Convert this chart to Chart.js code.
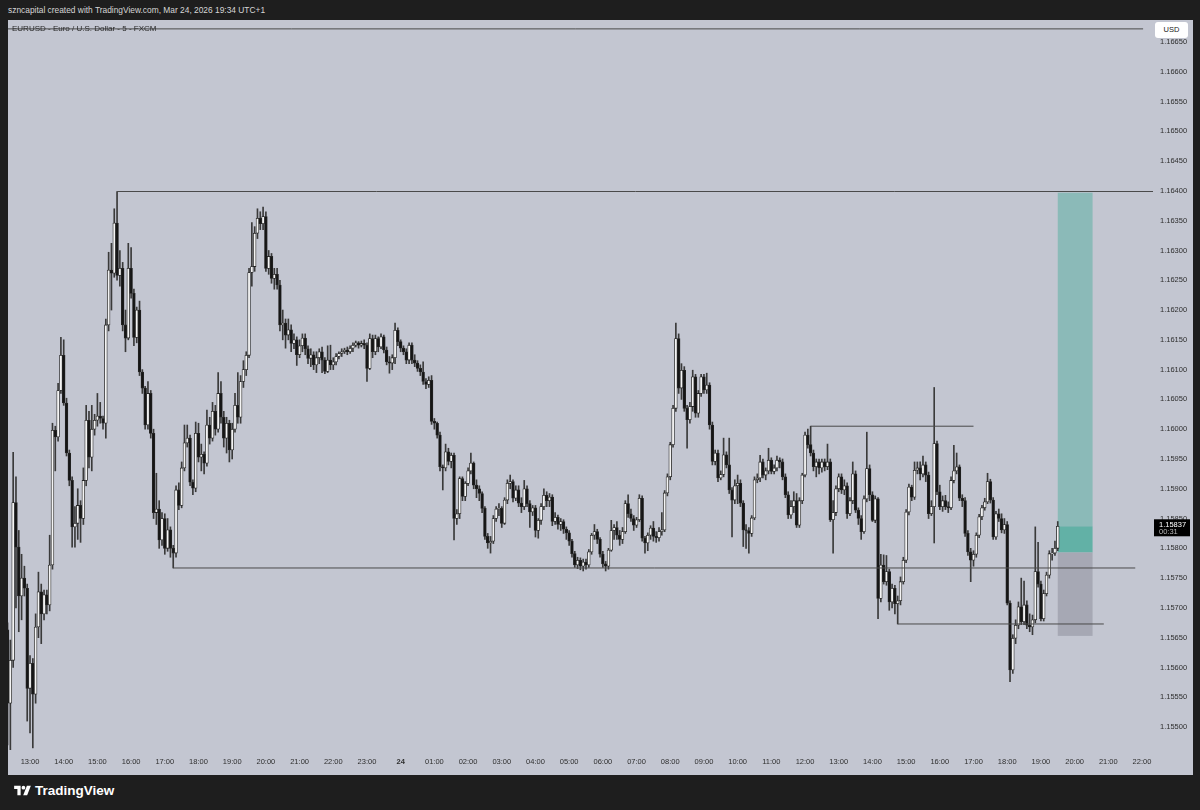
<!DOCTYPE html>
<html>
<head>
<meta charset="utf-8">
<script src="https://cdn.jsdelivr.net/npm/chart.js"></script>
<style>
body { margin: 0; width: 1200px; height: 810px; overflow: hidden; background: #1e1e1e; font-family: "Liberation Sans", Arial, sans-serif; }
#header { position: absolute; left: 8px; top: 5px; font-size: 8.4px; color: #d6d6d6; white-space: nowrap; }
#panel { position: absolute; left: 8px; top: 20px; width: 1185px; height: 755px; background: #c3c6d1; }
#title { position: absolute; left: 4px; top: 4px; font-size: 8px; color: #2b2b2b; white-space: nowrap; }
#usd { position: absolute; left: 1147px; top: 2px; width: 33px; height: 16px; background: #fff; border-radius: 3px; font-size: 7.5px; color: #222; text-align: center; line-height: 16px; }
#logo { position: absolute; left: 14px; top: 781px; height: 18px; display: flex; align-items: center; color: #fff; font-weight: bold; font-size: 13.5px; }
#logo svg { margin-right: 4px; }
</style>
</head>
<body>
<div id="header">szncapital created with TradingView.com, Mar 24, 2026 19:34 UTC+1</div>
<div id="panel">
<canvas id="myChart" width="1185" height="755"></canvas>
<div id="title">EURUSD - Euro / U.S. Dollar - 5 - FXCM</div>
<div id="usd">USD</div>
</div>
<div id="logo"><svg width="17" height="13" viewBox="0 0 36 28"><path d="M14 24H7V11H0V4h14v20zM28 24h-8.5l8-20h8.5z" fill="#fff"/><circle cx="20" cy="8" r="4" fill="#fff"/></svg>TradingView</div>

<script>
// EURUSD 5 min candles, prices in points above 1.15000, first bar 12:20 (Mar 23)
const BASE = 1.15;
const startMinute = 740;
const barMinutes = 5;

const opens = [
663,540,612,877,802,720,750,733,565,607, 555,668,727,690,722,705,772,998,987,1065,
1124,1044,960,914,836,842,872,850,914,1015, 953,1000,1015,1022,1018,1010,1175,1267,1262,1346,
1258,1270,1175,1153,1270,1228,1154,1200,1096,1069, 1007,1060,993,860,866,814,850,800,831,800,
792,898,872,935,977,985,911,901,993,953, 958,943,1007,985,1030,1000,1060,1020,985,1010,
965,1000,1040,1020,1080,1100,1124,1263,1273,1329, 1354,1345,1357,1270,1290,1253,1260,1242,1175,1178,
1158,1167,1144,1150,1125,1140,1153,1135,1119,1125, 1108,1120,1130,1116,1097,1116,1108,1113,1122,1127,
1130,1133,1130,1136,1141,1145,1141,1144,1141,1102, 1152,1130,1152,1138,1155,1133,1113,1111,1120,1166,
1147,1136,1130,1116,1141,1116,1111,1102,1096,1080, 1075,1082,1013,1010,990,937,935,962,946,956,
850,858,917,887,909,930,943,906,900,892, 867,820,809,812,850,866,867,842,881,909,
912,884,898,876,870,900,875,861,868,830, 847,870,889,880,886,845,852,840,845,832,
826,812,791,772,780,770,777,772,794,822, 828,815,790,774,770,797,830,835,822,815,
828,875,858,850,839,848,884,817,809,822, 834,820,818,828,831,893,920,974,1035,1152,
1069,1099,1035,1016,1038,1088,1027,1060,1088,1066, 1074,1007,946,960,918,924,957,940,898,881,
905,909,876,831,830,825,851,915,918,945, 923,930,948,929,935,948,945,920,890,856,
870,880,839,880,923,990,974,960,937,945, 935,945,937,945,848,860,900,920,898,905,
858,880,925,864,850,828,883,934,890,847, 883,716,772,744,761,710,733,707,712,744,
780,861,903,886,931,935,925,940,923,858, 870,976,895,870,880,870,868,914,930,937,
884,880,825,794,780,790,822,853,868,878, 912,881,819,858,850,831,840,708,596,649,
671,702,677,705,671,668,680,761,740,682, 724,755,791,792,800
];
const highs = [
675,646,961,920,830,790,770,740,620,615, 690,760,740,730,730,822,1010,1005,1077,1154,
1150,1052,965,920,870,900,880,935,1040,1030, 1040,1025,1060,1045,1022,1185,1297,1312,1370,1399,
1300,1280,1200,1312,1305,1235,1205,1215,1100,1072, 1080,1065,1000,926,880,860,858,850,836,805,
905,910,945,1007,1007,990,915,1012,1010,975, 962,1032,1020,1045,1040,1095,1080,1030,1020,1015,
1010,1060,1095,1090,1115,1130,1270,1347,1340,1370, 1365,1373,1365,1300,1295,1270,1270,1250,1200,1185,
1185,1175,1160,1155,1150,1160,1160,1140,1135,1130, 1130,1135,1138,1120,1140,1141,1120,1127,1130,1135,
1136,1138,1140,1145,1148,1147,1148,1150,1145,1160, 1158,1158,1155,1160,1158,1138,1122,1125,1178,1170,
1150,1140,1135,1145,1145,1125,1115,1108,1113,1085, 1088,1090,1018,1012,995,940,975,968,960,960,
865,920,920,912,935,960,945,915,905,895, 870,825,820,855,870,875,870,885,915,923,
915,905,905,885,914,905,880,872,872,850, 875,900,895,892,890,860,856,850,848,836,
830,815,795,785,784,782,782,798,825,840, 832,818,795,778,800,847,840,845,830,835,
880,890,866,855,852,890,888,820,826,838, 845,828,835,860,897,925,978,1040,1178,1160,
1110,1105,1040,1045,1099,1092,1065,1092,1092,1094, 1078,1012,965,965,930,985,962,985,902,915,
923,915,880,840,835,855,920,925,956,950, 935,968,952,940,955,952,950,925,895,880,
895,892,885,926,995,1000,1005,965,950,950, 950,950,975,950,880,905,925,925,915,910,
885,945,930,868,855,888,995,940,895,888, 885,790,789,788,765,740,738,720,752,785,
865,908,906,945,945,945,955,945,928,880, 1070,980,906,888,889,878,920,973,960,940,
890,885,830,800,796,826,857,872,884,926, 916,885,862,866,858,850,845,712,655,680,
710,750,745,712,690,688,836,810,745,730, 760,796,800,812,845
];
const lows = [
470,462,600,700,660,680,720,510,490,465, 540,650,640,680,690,695,765,930,980,1060,
1040,955,905,802,802,815,810,840,905,935, 930,990,1005,1010,1000,985,1165,1200,1255,1250,
1240,1165,1130,1150,1220,1140,1145,1090,1060,1000, 1000,985,850,840,800,805,790,795,785,767,
785,865,868,930,970,905,890,895,945,930, 925,938,975,980,990,995,1010,970,960,945,
950,995,1010,1010,1070,1090,1120,1240,1265,1320, 1335,1335,1265,1260,1245,1235,1235,1165,1150,1136,
1150,1130,1135,1107,1120,1130,1125,1110,1105,1100, 1095,1110,1095,1093,1095,1100,1100,1108,1118,1122,
1127,1125,1127,1130,1138,1136,1138,1135,1080,1100, 1120,1125,1130,1135,1128,1108,1094,1100,1110,1140,
1130,1125,1110,1110,1110,1105,1097,1090,1075,1068, 1070,1008,1000,985,930,898,930,940,935,814,
840,850,880,880,905,925,900,885,880,860, 815,800,792,808,845,855,835,840,875,900,
878,880,870,860,865,870,835,855,819,817, 840,865,870,870,838,840,832,830,825,815,
805,785,768,766,764,762,765,768,790,815, 808,785,768,762,765,795,815,815,805,808,
825,852,845,830,835,845,812,792,796,815, 812,810,812,822,828,888,915,970,1030,1060,
1050,1030,968,1010,1030,1020,1020,1055,1060,1060, 1000,940,940,912,915,920,935,892,819,875,
875,870,803,800,792,820,848,910,912,918, 915,925,925,925,930,935,915,885,850,850,
860,835,835,875,920,968,955,930,920,925, 928,930,932,845,792,855,895,892,890,850,
855,875,860,840,815,825,878,880,845,843, 682,710,740,738,696,700,690,673,705,740,
776,856,880,882,925,915,920,912,850,855, 809,890,865,862,865,860,865,910,925,880,
870,820,788,744,770,785,818,848,864,875, 876,815,815,845,826,825,705,576,590,640,
665,672,672,665,660,655,675,735,678,678, 720,750,780,788,796
];
const closes = [
540,612,877,802,720,750,733,565,607,555, 668,727,690,722,705,772,998,987,1065,1124,
1044,960,914,836,842,872,850,914,1015,953, 1000,1015,1022,1018,1010,1175,1267,1262,1346,1258,
1270,1175,1153,1270,1228,1154,1200,1096,1069,1007, 1060,993,860,866,814,850,800,831,800,792,
898,872,935,977,985,911,901,993,953,958, 943,1007,985,1030,1000,1060,1020,985,1010,965,
1000,1040,1020,1080,1100,1124,1263,1273,1329,1354, 1345,1357,1270,1290,1253,1260,1242,1175,1178,1158,
1167,1144,1150,1125,1140,1153,1135,1119,1125,1108, 1120,1130,1116,1097,1116,1108,1113,1122,1127,1130,
1133,1130,1136,1141,1145,1141,1144,1141,1102,1152, 1130,1152,1138,1155,1133,1113,1111,1120,1166,1147,
1136,1130,1116,1141,1116,1111,1102,1096,1080,1075, 1082,1013,1010,990,937,935,962,946,956,850,
858,917,887,909,930,943,906,900,892,867, 820,809,812,850,866,867,842,881,909,912,
884,898,876,870,900,875,861,868,830,847, 870,889,880,886,845,852,840,845,832,826,
812,791,772,780,770,777,772,794,822,828, 815,790,774,770,797,830,835,822,815,828,
875,858,850,839,848,884,817,809,822,834, 820,818,828,831,893,920,974,1035,1152,1069,
1099,1035,1016,1038,1088,1027,1060,1088,1066,1074, 1007,946,960,918,924,957,940,898,881,905,
909,876,831,830,825,851,915,918,945,923, 930,948,929,935,948,945,920,890,856,870,
880,839,880,923,990,974,960,937,945,935, 945,937,945,848,860,900,920,898,905,858,
880,925,864,850,828,883,934,890,847,883, 716,772,744,761,710,733,707,712,744,780,
861,903,886,931,935,925,940,923,858,870, 976,895,870,880,870,868,914,930,937,884,
880,825,794,780,790,822,853,868,878,912, 881,819,858,850,831,840,708,596,649,671,
702,677,705,671,668,680,761,740,682,724, 755,791,792,800,837
];

// drawn horizontal levels
const levelPrices = [1.16672, 1.16399, 1.15767, 1.16005, 1.15673];
const levelStarts = [740, 935, 1035, 2170, 2325];
const levelEnds = [2762, 2790, 2748, 2460, 2692];

// long position tool
const posStart = 2610, posEnd = 2672;
const posTarget = 1.16397, posEntry = 1.15793, posStop = 1.15653;
const lastPrice = 1.15837, lastCountdown = '00:31';

// axis ticks
const priceTicks = [];
for (let p = 1155; p <= 1166.5; p += 0.5) priceTicks.push(+(p / 1000).toFixed(5));
const timeLabels = ['13:00','14:00','15:00','16:00','17:00','18:00','19:00','20:00','21:00','22:00','23:00','24',
  '01:00','02:00','03:00','04:00','05:00','06:00','07:00','08:00','09:00','10:00','11:00','12:00',
  '13:00','14:00','15:00','16:00','17:00','18:00','19:00','20:00','21:00','22:00'];
const timeTickValues = timeLabels.map((_, k) => 780 + 60 * k);

const toPrice = p => +(BASE + p / 100000).toFixed(5);
const times = closes.map((_, i) => startMinute + i * barMinutes);
const wickData = times.map((t, i) => ({ x: t, y: [toPrice(lows[i]), toPrice(highs[i])] }));
const bodyData = times.map((t, i) => ({ x: t, y: [toPrice(opens[i]), toPrice(closes[i])] }));
const bodyColors = closes.map((c, i) => c >= opens[i] ? '#f4f4f4' : '#151515');

const levelSets = levelPrices.map((p, k) => ({
  type: 'line',
  data: [{ x: levelStarts[k], y: p }, { x: levelEnds[k], y: p }],
  borderColor: '#4a4a4a',
  borderWidth: 1,
  pointRadius: 0,
  order: 0
}));

const zonePlugin = {
  id: 'zones',
  beforeDatasetsDraw(chart) {
    const { ctx, scales: { x, y } } = chart;
    const x1 = x.getPixelForValue(posStart), x2 = x.getPixelForValue(posEnd);
    const box = (a, b, color) => {
      const y1 = y.getPixelForValue(a), y2 = y.getPixelForValue(b);
      ctx.fillStyle = color;
      ctx.fillRect(x1, Math.min(y1, y2), x2 - x1, Math.abs(y2 - y1));
    };
    ctx.save();
    box(posTarget, lastPrice, '#8bbab8');
    box(lastPrice, posEntry, '#62b1a6');
    box(posEntry, posStop, '#a6a8b4');
    ctx.restore();
  }
};

const priceTagPlugin = {
  id: 'priceTag',
  afterDraw(chart) {
    const { ctx, chartArea, scales: { y } } = chart;
    const py = y.getPixelForValue(lastPrice);
    ctx.save();
    ctx.fillStyle = '#000';
    ctx.fillRect(chartArea.right + 1, py - 7, 36, 17);
    ctx.font = '7.5px "Liberation Sans", Arial, sans-serif';
    ctx.textBaseline = 'middle';
    ctx.fillStyle = '#fff';
    ctx.fillText(lastPrice.toFixed(5), chartArea.right + 6, py - 1.5);
    ctx.fillStyle = '#b8b8b8';
    ctx.fillText(lastCountdown, chartArea.right + 6, py + 6);
    ctx.restore();
  }
};

const ctx = document.getElementById('myChart').getContext('2d');
new Chart(ctx, {
  data: {
    datasets: [
      ...levelSets,
      { type: 'bar', data: bodyData, backgroundColor: bodyColors, borderColor: '#262626', borderWidth: 0.8,
        borderSkipped: false, barThickness: 2.8, grouped: false, order: 1 },
      { type: 'bar', data: wickData, backgroundColor: '#3a3a3a', barThickness: 1, grouped: false, order: 2 }
    ]
  },
  options: {
    responsive: false,
    animation: false,
    devicePixelRatio: 1,
    events: [],
    layout: { padding: 0 },
    plugins: { legend: { display: false }, tooltip: { enabled: false } },
    scales: {
      x: {
        type: 'linear',
        min: 740.8,
        max: 2779.6,
        offset: false,
        grid: { display: false, offset: false, drawTicks: false },
        border: { display: false },
        afterBuildTicks: s => { s.ticks = timeTickValues.map(v => ({ value: v })); },
        afterFit: s => { s.height = 23; s.paddingLeft = 0; s.paddingRight = 0; },
        ticks: {
          autoSkip: false,
          maxRotation: 0,
          padding: 5,
          color: '#2e2e2e',
          font: c => ({ family: '"Liberation Sans", Arial, sans-serif', size: 7.5,
                        weight: c.tick && c.tick.value === 1440 ? 'bold' : 'normal' }),
          callback: v => timeLabels[timeTickValues.indexOf(v)]
        }
      },
      y: {
        type: 'linear',
        position: 'right',
        min: 1.154581,
        max: 1.166869,
        grid: { display: false, drawTicks: false },
        border: { display: false },
        afterBuildTicks: s => { s.ticks = priceTicks.map(v => ({ value: v })); },
        afterFit: s => { s.width = 40; s.paddingTop = 0; s.paddingBottom = 0; },
        ticks: {
          padding: 7,
          color: '#2e2e2e',
          font: { family: '"Liberation Sans", Arial, sans-serif', size: 7.5 },
          callback: v => v.toFixed(5)
        }
      }
    }
  },
  plugins: [zonePlugin, priceTagPlugin]
});
</script>
</body>
</html>
